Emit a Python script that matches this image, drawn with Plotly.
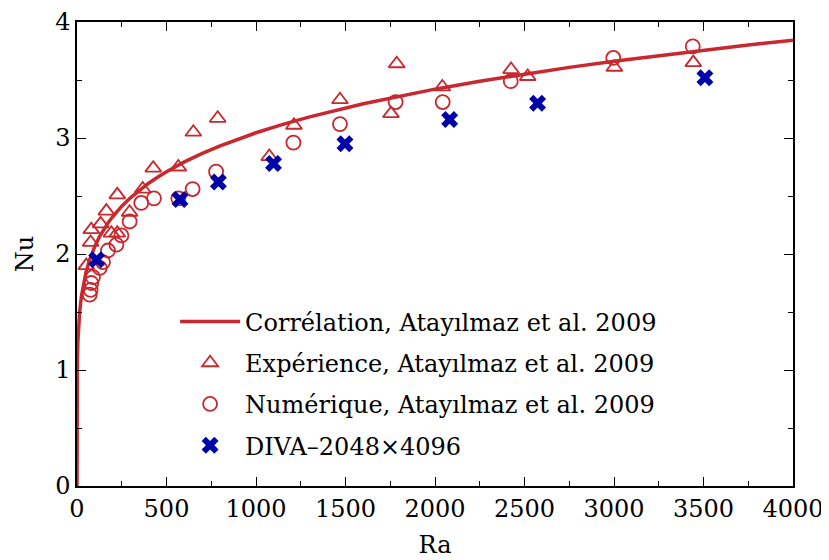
import plotly.graph_objects as go

# Correlation curve
corr_ra = [0, 0.01, 0.1, 1, 2, 5, 10, 15, 25, 35, 50, 70, 100, 125, 150, 175, 200, 250, 300,
           350, 400, 450, 500, 600, 700, 800, 900, 1000, 1150, 1300, 1600, 1800, 2000, 2250,
           2500, 2750, 3000, 3250, 3500, 3750, 4000]
corr_nu = [0, 0.44, 0.648, 0.954, 1.072, 1.250, 1.405, 1.504, 1.638, 1.734, 1.841, 1.948, 2.068,
           2.147, 2.214, 2.272, 2.323, 2.412, 2.487, 2.552, 2.610, 2.662, 2.710, 2.794, 2.868,
           2.933, 2.991, 3.045, 3.117, 3.182, 3.295, 3.361, 3.421, 3.489, 3.551, 3.609, 3.662,
           3.711, 3.758, 3.802, 3.843]

# Experimental (triangles)
exp_ra = [52, 76, 80, 132, 164, 192, 225, 225, 294, 367, 426, 566, 650, 786, 1074, 1212,
          1469, 1754, 1786, 2041, 2425, 2518, 3002, 3443]
exp_nu = [1.90, 2.10, 2.21, 2.26, 2.37, 2.18, 2.18, 2.51, 2.36, 2.56, 2.74, 2.75, 3.05, 3.17,
          2.84, 3.11, 3.33, 3.21, 3.64, 3.44, 3.59, 3.53, 3.61, 3.65]

# Numerical (circles)
num_ra = [71, 76, 80, 89, 127, 145, 173, 220, 248, 294, 359, 430, 566, 646, 777, 1209,
          1469, 1780, 2043, 2423, 2996, 3440]
num_nu = [1.65, 1.69, 1.75, 1.80, 1.88, 1.93, 2.03, 2.08, 2.16, 2.28, 2.44, 2.48, 2.48, 2.56,
          2.71, 2.96, 3.12, 3.31, 3.31, 3.49, 3.69, 3.79]

# DIVA simulations (crosses)
diva_ra = [110, 575, 790, 1098, 1497, 2082, 2573, 3508]
diva_nu = [1.95, 2.47, 2.62, 2.78, 2.95, 3.16, 3.30, 3.52]

RED = "#c8282e"
BLUE = "#0000a8"
FONT = "DejaVu Serif"
FS = 24

fig = go.Figure()
fig.add_trace(go.Scatter(x=corr_ra, y=corr_nu, mode="lines",
                         line=dict(color=RED, width=3.5), legendgroup="a",
                         name="Corrélation, Atayılmaz et al. 2009"))
fig.add_trace(go.Scatter(x=exp_ra, y=exp_nu, mode="markers", legendgroup="b",
                         marker=dict(symbol="triangle-up-open", size=14, color=RED,
                                     line=dict(width=1.8, color=RED)),
                         name="Expérience, Atayılmaz et al. 2009"))
fig.add_trace(go.Scatter(x=num_ra, y=num_nu, mode="markers", legendgroup="c",
                         marker=dict(symbol="circle-open", size=14, color=RED,
                                     line=dict(width=1.8, color=RED)),
                         name="Numérique, Atayılmaz et al. 2009"))
fig.add_trace(go.Scatter(x=diva_ra, y=diva_nu, mode="markers", legendgroup="d",
                         marker=dict(symbol="x", size=15, color=BLUE,
                                     line=dict(width=0)),
                         name="DIVA–2048×4096"))

axis_common = dict(
    showline=True, linecolor="black", linewidth=1.5, mirror="allticks",
    ticks="inside", ticklen=9, tickwidth=1.3, tickcolor="black",
    showgrid=False, zeroline=False, automargin=False,
    tickfont=dict(family=FONT, size=FS, color="black"),
)

fig.update_xaxes(range=[0, 4000], dtick=500, tick0=0,
                 minor=dict(dtick=250, ticks="inside", ticklen=5, tickwidth=1.2, tickcolor="black"),
                 title=dict(text="Ra", font=dict(family=FONT, size=FS, color="black")),
                 **axis_common)
fig.update_yaxes(range=[0, 4], dtick=1, tick0=0,
                 minor=dict(dtick=0.5, ticks="inside", ticklen=5, tickwidth=1.2, tickcolor="black"),
                 title=dict(text="Nu", font=dict(family=FONT, size=FS, color="black")),
                 **axis_common)

# page body has an 8px margin, so the figure is 8px smaller and margins are shifted
fig.update_layout(
    width=821, height=552,
    margin=dict(l=69, r=36, t=14, b=74),
    paper_bgcolor="white", plot_bgcolor="white",
    font=dict(family=FONT, size=FS, color="black"),
    legend=dict(x=0.137, y=0.402, xanchor="left", yanchor="top",
                bgcolor="rgba(0,0,0,0)", font=dict(family=FONT, size=FS, color="black"),
                itemwidth=60, tracegroupgap=7),
)

fig.write_html("out.html")
